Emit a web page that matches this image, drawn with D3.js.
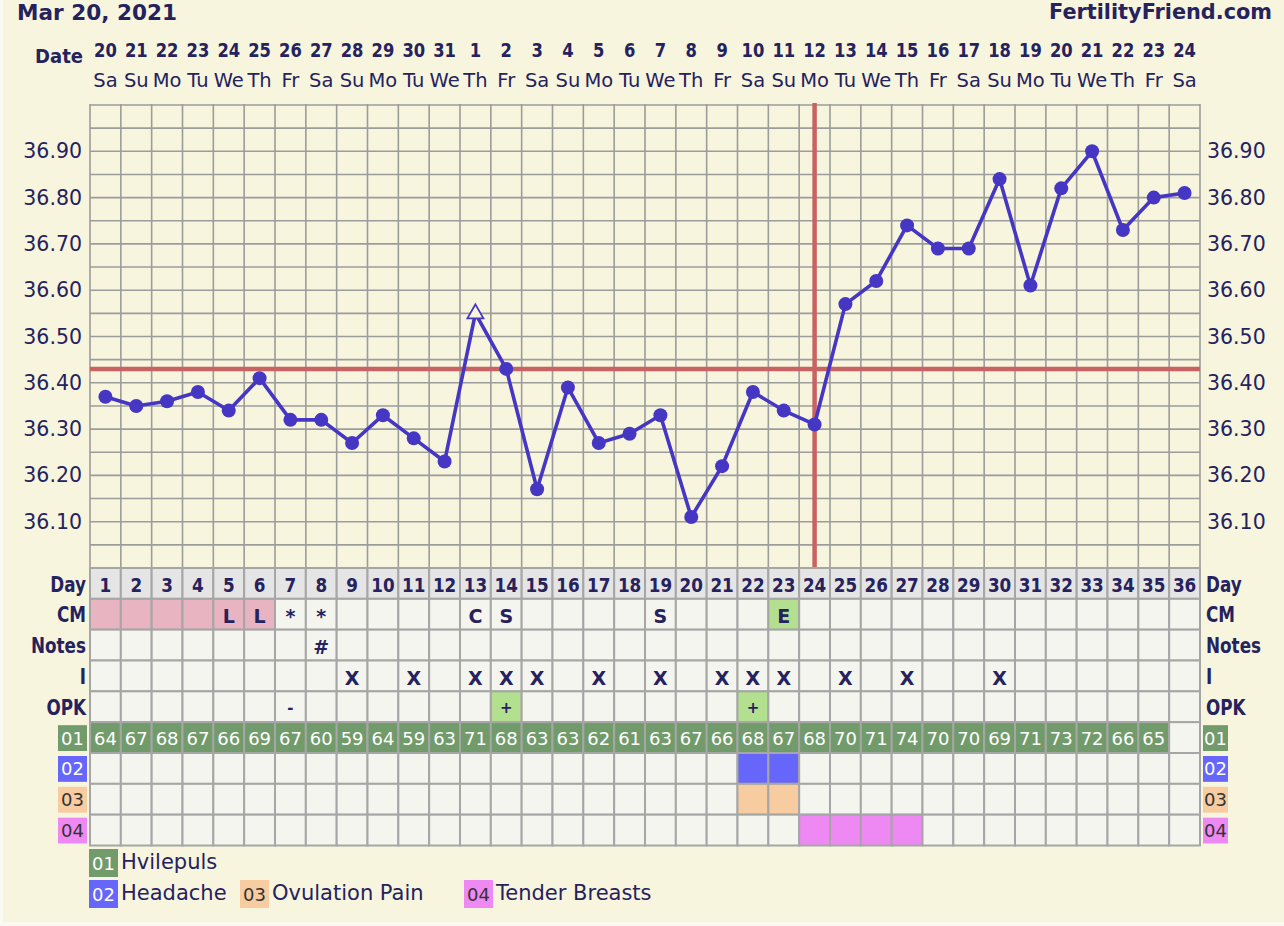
<!DOCTYPE html>
<html>
<head>
<meta charset="utf-8">
<script src="https://cdn.jsdelivr.net/npm/d3@7"></script>
<style>
  html, body { margin: 0; padding: 0; background: #f7f5dd; }
  svg { display: block; }
  text { font-family: "DejaVu Sans", Verdana, sans-serif; }
</style>
</head>
<body>
<svg id="chart" width="1284" height="926"></svg>
<script>
// ---- chart data -------------------------------------------------------
const chartTitle = "Mar 20, 2021";
const siteName = "FertilityFriend.com";

const cycleDays = [1,2,3,4,5,6,7,8,9,10,11,12,13,14,15,16,17,18,19,20,21,22,23,24,25,26,27,28,29,30,31,32,33,34,35,36];
const dateLabels = ["20","21","22","23","24","25","26","27","28","29","30","31","1","2","3","4","5","6","7","8","9","10","11","12","13","14","15","16","17","18","19","20","21","22","23","24"];
const weekdayLabels = ["Sa","Su","Mo","Tu","We","Th","Fr","Sa","Su","Mo","Tu","We","Th","Fr","Sa","Su","Mo","Tu","We","Th","Fr","Sa","Su","Mo","Tu","We","Th","Fr","Sa","Su","Mo","Tu","We","Th","Fr","Sa"];

// basal body temperature (°C), one reading per cycle day
const temps = [36.37,36.35,36.36,36.38,36.34,36.41,36.32,36.32,36.27,36.33,36.28,36.23,36.55,36.43,36.17,36.39,36.27,36.29,36.33,36.11,36.22,36.38,36.34,36.31,36.57,36.62,36.74,36.69,36.69,36.84,36.61,36.82,36.90,36.73,36.80,36.81];
const openMarkerDays = [13];          // readings shown as hollow triangles
const tempTicks = [36.10,36.20,36.30,36.40,36.50,36.60,36.70,36.80,36.90];
const tempDomain = [36.00, 37.00];
const coverline = 36.43;
const ovulationDay = 24;

// fertility signs
const cmMarks = ["","","","","L","L","*","*","","","","","C","S","","","","","S","","","","E","","","","","","","","","","","","",""];
const periodDays = [1,2,3,4,5,6];
const eggWhiteDays = [23];
const noteMarks = ["","","","","","","","#","","","","","","","","","","","","","","","","","","","","","","","","","","","",""];
const intercourseDays = [9,11,13,14,15,17,19,21,22,23,25,27,30];
const opkMarks = ["","","","","","","-","","","","","","","+","","","","","","","","+","","","","","","","","","","","","","",""];
const opkPositiveDays = [14,22];

// custom rows
const pulse = [64,67,68,67,66,69,67,60,59,64,59,63,71,68,63,63,62,61,63,67,66,68,67,68,70,71,74,70,70,69,71,73,72,66,65,null];
const headacheDays = [22,23];
const ovulationPainDays = [22,23];
const tenderBreastDays = [24,25,26,27];

const customCodes = ["01","02","03","04"];
const customNames = ["Hvilepuls","Headache","Ovulation Pain","Tender Breasts"];

// ---- styling -----------------------------------------------------------
const INK = "#25225e";
const BG = "#f7f5dd";
const CELL = "#f5f5f0";
const GRID = "#9c9c9c";
const TEMP_BLUE = "#4537c4";
const RED = "#c96262";
const codeFill = { "01": "#729b6b", "02": "#6666fb", "03": "#f6cca0", "04": "#ee88f2" };
const codeInk = { "01": "#ffffff", "02": "#ffffff", "03": "#333333", "04": "#333333" };

const svg = d3.select("#chart");
const W = 1284, H = 926;

function squeeze(sel, k) {
  sel.each(function () {
    const w = this.getComputedTextLength();
    this.setAttribute("textLength", w * k);
    this.setAttribute("lengthAdjust", "spacingAndGlyphs");
  });
}

// page background with the lighter edge on the left and bottom
svg.append("rect").attr("width", W).attr("height", H).attr("fill", "#fbfaf2");
svg.append("rect").attr("x", 3).attr("y", 0).attr("width", W - 3).attr("height", H - 4).attr("fill", BG);

// ---- scales --------------------------------------------------------------
const plotLeft = 90, plotRight = 1200, plotTop = 105, plotBottom = 568;
const x = d3.scaleBand().domain(cycleDays).range([plotLeft, plotRight]);
const y = d3.scaleLinear().domain(tempDomain).range([plotBottom, plotTop]);
const cx = d => x(d) + x.bandwidth() / 2;

const rowKeys = ["Day","CM","Notes","I","OPK"].concat(customCodes);
const row = d3.scaleBand().domain(rowKeys).range([plotBottom, plotBottom + rowKeys.length * x.bandwidth()]);

// ---- header --------------------------------------------------------------
svg.append("text").attr("x", 17).attr("y", 20)
  .attr("font-size", 22).attr("font-weight", "bold").attr("fill", INK)
  .attr("textLength", 160).attr("lengthAdjust", "spacingAndGlyphs")
  .text(chartTitle);
svg.append("text").attr("x", 1272).attr("y", 19).attr("text-anchor", "end")
  .attr("font-size", 22).attr("font-weight", "bold").attr("fill", INK)
  .attr("textLength", 223).attr("lengthAdjust", "spacingAndGlyphs")
  .text(siteName);

svg.append("text").attr("x", 83).attr("y", 63).attr("text-anchor", "end")
  .attr("font-size", 20).attr("font-weight", "bold").attr("fill", INK)
  .text("Date").call(squeeze, 0.9);

// date numbers and weekday names along the top
const dateAxis = svg.append("g").attr("transform", `translate(0,57)`)
  .call(d3.axisTop(x).tickSize(0).tickPadding(0).tickFormat((d, i) => dateLabels[i]));
const dayAxis = svg.append("g").attr("transform", `translate(0,87)`)
  .call(d3.axisTop(x).tickSize(0).tickPadding(0).tickFormat((d, i) => weekdayLabels[i]));
[dateAxis, dayAxis].forEach(g => g.select(".domain").remove());
dateAxis.selectAll("text").attr("font-family", "DejaVu Sans").attr("font-size", 19)
  .attr("font-weight", "bold").attr("fill", INK).call(squeeze, 0.86);
dayAxis.selectAll("text").attr("font-family", "DejaVu Sans").attr("font-size", 19.5)
  .attr("fill", INK);

// ---- temperature grid -----------------------------------------------------
const grid = svg.append("g").attr("stroke", GRID).attr("stroke-width", 1.6);
const gridSteps = d3.range(0, 21).map(i => tempDomain[0] + i * 0.05);
grid.selectAll("line.h").data(gridSteps).join("line")
  .attr("x1", plotLeft).attr("x2", plotRight)
  .attr("y1", d => y(d)).attr("y2", d => y(d));
grid.selectAll("line.v").data(cycleDays.concat(["end"])).join("line")
  .attr("x1", d => d === "end" ? plotRight : x(d)).attr("x2", d => d === "end" ? plotRight : x(d))
  .attr("y1", plotTop - 1).attr("y2", plotBottom);

// temperature axes on both sides
const axL = svg.append("g").attr("transform", `translate(${plotLeft},0)`)
  .call(d3.axisLeft(y).tickValues(tempTicks).tickFormat(d3.format(".2f")).tickSize(0).tickPadding(8));
const axR = svg.append("g").attr("transform", `translate(${plotRight},0)`)
  .call(d3.axisRight(y).tickValues(tempTicks).tickFormat(d3.format(".2f")).tickSize(0).tickPadding(7));
[axL, axR].forEach(g => {
  g.select(".domain").remove();
  g.selectAll("text").attr("font-family", "DejaVu Sans").attr("font-size", 20.5).attr("fill", INK);
});

// coverline and ovulation line
svg.append("line").attr("x1", plotLeft).attr("x2", plotRight)
  .attr("y1", y(coverline)).attr("y2", y(coverline))
  .attr("stroke", RED).attr("stroke-width", 4.5);
svg.append("line").attr("x1", cx(ovulationDay)).attr("x2", cx(ovulationDay))
  .attr("y1", plotTop - 2).attr("y2", plotBottom - 1)
  .attr("stroke", RED).attr("stroke-width", 4.5);

// temperature curve
const pts = cycleDays.map((d, i) => ({ day: d, t: temps[i] }));
svg.append("path").datum(pts)
  .attr("fill", "none").attr("stroke", TEMP_BLUE).attr("stroke-width", 3.6)
  .attr("stroke-linejoin", "round")
  .attr("d", d3.line().x(p => cx(p.day)).y(p => y(p.t)));

svg.selectAll("circle.temp").data(pts.filter(p => !openMarkerDays.includes(p.day))).join("circle")
  .attr("cx", p => cx(p.day)).attr("cy", p => y(p.t)).attr("r", 7)
  .attr("fill", TEMP_BLUE);

svg.selectAll("path.open").data(pts.filter(p => openMarkerDays.includes(p.day))).join("path")
  .attr("transform", p => `translate(${cx(p.day)},${y(p.t)})`)
  .attr("d", "M0,-9L8,5L-8,5Z")
  .attr("fill", BG).attr("stroke", TEMP_BLUE).attr("stroke-width", 1.8);

// ---- data table ------------------------------------------------------------
function cellFill(key, d, i) {
  if (key === "Day") return "#e5e5e5";
  if (key === "CM") {
    if (periodDays.includes(d)) return "#e8b4c1";
    if (eggWhiteDays.includes(d)) return "#b2e08e";
  }
  if (key === "OPK" && opkPositiveDays.includes(d)) return "#b2e08e";
  if (key === "01" && pulse[i] != null) return codeFill["01"];
  if (key === "02" && headacheDays.includes(d)) return codeFill["02"];
  if (key === "03" && ovulationPainDays.includes(d)) return codeFill["03"];
  if (key === "04" && tenderBreastDays.includes(d)) return codeFill["04"];
  return CELL;
}
function cellText(key, d, i) {
  switch (key) {
    case "Day": return String(d);
    case "CM": return cmMarks[i];
    case "Notes": return noteMarks[i];
    case "I": return intercourseDays.includes(d) ? "X" : "";
    case "OPK": return opkMarks[i];
    case "01": return pulse[i] == null ? "" : String(pulse[i]);
    default: return "";
  }
}

const cells = [];
rowKeys.forEach(key => cycleDays.forEach((d, i) => cells.push({ key, d, i })));

const table = svg.append("g");
table.selectAll("rect").data(cells).join("rect")
  .attr("x", c => x(c.d)).attr("y", c => row(c.key))
  .attr("width", x.bandwidth()).attr("height", row.bandwidth())
  .attr("fill", c => cellFill(c.key, c.d, c.i))
  .attr("stroke", "#a6a6a6").attr("stroke-width", 2);

const txt = table.selectAll("text").data(cells.filter(c => cellText(c.key, c.d, c.i) !== "")).join("text")
  .attr("x", c => cx(c.d))
  .attr("y", c => row(c.key) + (c.key === "01" ? 23 : 24))
  .attr("text-anchor", "middle")
  .attr("fill", c => c.key === "01" ? "#ffffff" : INK)
  .attr("font-weight", c => c.key === "01" ? "normal" : "bold")
  .attr("font-size", c => {
    const t = cellText(c.key, c.d, c.i);
    if (c.key === "01") return 18;
    if (c.key === "Day") return 20;
    if (t === "+" || t === "-") return 15;
    return 19;
  })
  .attr("dy", c => { const t = cellText(c.key, c.d, c.i); return (t === "+" || t === "-") ? -2 : 0; })
  .text(c => cellText(c.key, c.d, c.i));
txt.filter(c => c.key === "Day").call(squeeze, 0.84);

// row labels on both sides
const textRows = ["Day","CM","Notes","I","OPK"];
[{ x: 86, anchor: "end" }, { x: 1206, anchor: "start" }].forEach(side => {
  svg.append("g").selectAll("text").data(textRows).join("text")
    .attr("x", side.x).attr("y", k => row(k) + 23.5)
    .attr("text-anchor", side.anchor)
    .attr("font-size", 21).attr("font-weight", "bold").attr("fill", INK)
    .text(k => k).call(squeeze, 0.8);
});

// coded custom-row badges
function badge(g, code, bx, by, bw, bh) {
  g.append("rect").attr("x", bx).attr("y", by).attr("width", bw).attr("height", bh)
    .attr("fill", codeFill[code]);
  g.append("text").attr("x", bx + bw / 2).attr("y", by + bh / 2 + 6.5)
    .attr("text-anchor", "middle").attr("font-size", 18).attr("fill", codeInk[code])
    .text(code);
}
const badges = svg.append("g");
customCodes.forEach(code => {
  badge(badges, code, 58, row(code) + 3, 29, row.bandwidth() - 5);
  badge(badges, code, 1203, row(code) + 3, 25, row.bandwidth() - 5);
});

// ---- legend ------------------------------------------------------------------
const legend = svg.append("g");
const legendSpots = [[89, 849], [89, 880], [240, 880], [464, 880]];
customCodes.forEach((code, i) => {
  const [lx, ly] = legendSpots[i];
  badge(legend, code, lx, ly, 29, 28);
  legend.append("text").attr("x", lx + 32).attr("y", ly + 20)
    .attr("font-size", 21).attr("fill", INK).text(customNames[i]);
});
</script>
</body>
</html>
